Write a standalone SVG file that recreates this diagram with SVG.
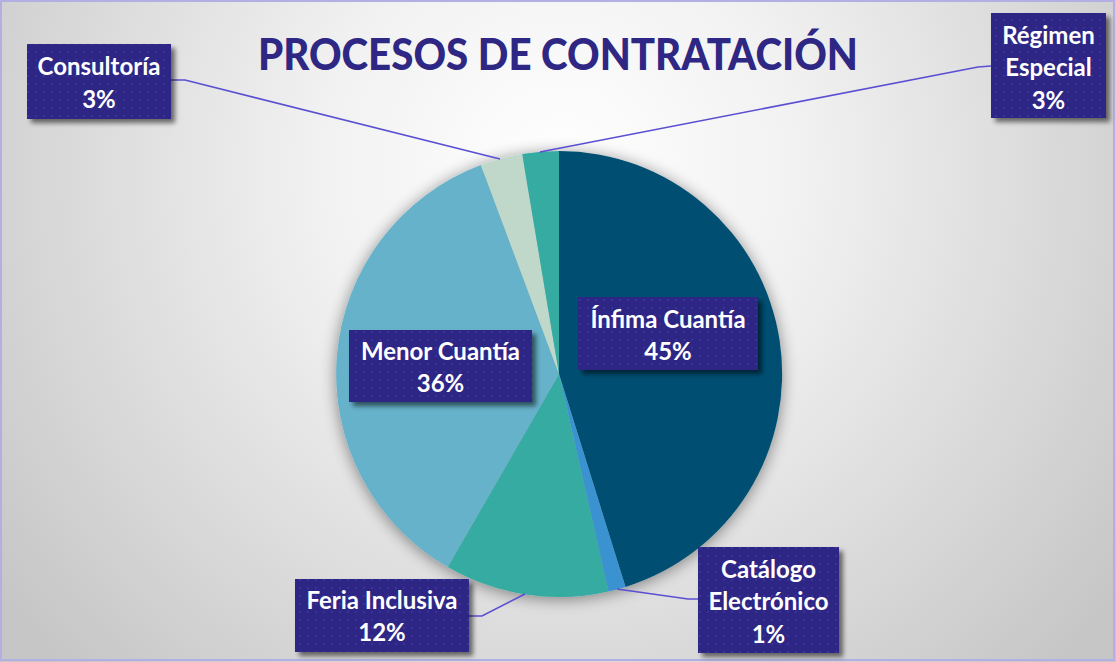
<svg xmlns="http://www.w3.org/2000/svg" width="1116" height="662" viewBox="0 0 1116 662">
<defs>
<radialGradient id="bg" cx="560" cy="170" r="700" gradientUnits="userSpaceOnUse">
<stop offset="0" stop-color="#ffffff"/>
<stop offset="0.35" stop-color="#f1f1f1"/>
<stop offset="1" stop-color="#c6c6c6"/>
</radialGradient>
<pattern id="dots" width="8" height="8" patternUnits="userSpaceOnUse">
<rect width="8" height="8" fill="#2e2784"/>
<circle cx="4" cy="4" r="1" fill="#3a33a0"/>
</pattern>
<filter id="pieShadow" x="-20%" y="-20%" width="140%" height="140%">
<feGaussianBlur in="SourceAlpha" stdDeviation="8"/>
<feOffset dx="0" dy="2"/>
<feComponentTransfer><feFuncA type="linear" slope="0.45"/></feComponentTransfer>
<feMerge><feMergeNode/><feMergeNode in="SourceGraphic"/></feMerge>
</filter>
<filter id="boxShadow" x="-20%" y="-20%" width="150%" height="150%">
<feGaussianBlur in="SourceAlpha" stdDeviation="2.5"/>
<feOffset dx="4" dy="4"/>
<feComponentTransfer><feFuncA type="linear" slope="0.55"/></feComponentTransfer>
<feMerge><feMergeNode/><feMergeNode in="SourceGraphic"/></feMerge>
</filter>
</defs>
<style>
.box{fill:url(#dots);filter:url(#boxShadow);}
.lbl{font-family:Lato,"Open Sans","Liberation Sans",sans-serif;font-weight:bold;font-size:24px;fill:#ffffff;text-anchor:middle;}
.title{font-family:Lato,"Open Sans","Liberation Sans",sans-serif;font-weight:900;font-size:44px;fill:#2e2784;text-anchor:middle;}
.lead{fill:none;stroke:#5a4fd2;stroke-width:1.6;}
</style>
<rect x="0" y="0" width="1116" height="662" fill="url(#bg)"/>
<rect x="1" y="1" width="1113" height="659" fill="none" stroke="#b3afe2" stroke-width="2"/>
<text class="title" x="558" y="70" textLength="600" lengthAdjust="spacingAndGlyphs">PROCESOS DE CONTRATACIÓN</text>

<g id="pie" filter="url(#pieShadow)">
<path id="slice-infima" d="M559,374 L559,151 A223,223 0 0 1 625.5,586.9 Z" fill="#005073"/>
<path id="slice-catalogo" d="M559,374 L625.5,586.9 A223,223 0 0 1 608.5,591.4 Z" fill="#3a92d0"/>
<path id="slice-feria" d="M559,374 L608.5,591.4 A223,223 0 0 1 447.8,567.1 Z" fill="#36aba1"/>
<path id="slice-menor" d="M559,374 L447.8,567.1 A223,223 0 0 1 480.9,165.1 Z" fill="#66b2ca"/>
<path id="slice-consultoria" d="M559,374 L480.9,165.1 A223,223 0 0 1 522.2,154.1 Z" fill="#bfd8ca"/>
<path id="slice-regimen" d="M559,374 L522.2,154.1 A223,223 0 0 1 559,151 Z" fill="#36aba1"/>
</g>

<g id="connectors">
<polyline class="lead" points="171,80 185,80 500,159"/>
<polyline class="lead" points="991,66 978,67 540,152"/>
<polyline class="lead" points="469,616 482,616 525,594"/>
<polyline class="lead" points="698,599 688,599 617,589"/>
</g>

<g id="label-consultoria">
<rect class="box" x="27" y="44" width="144" height="75"/>
<text class="lbl" x="99" y="75">Consultoría</text>
<text class="lbl" x="99" y="108">3%</text>
</g>
<g id="label-regimen">
<rect class="box" x="991" y="13" width="115" height="105"/>
<text class="lbl" x="1048.5" y="44">Régimen</text>
<text class="lbl" x="1048.5" y="76">Especial</text>
<text class="lbl" x="1048.5" y="109">3%</text>
</g>
<g id="label-menor">
<rect class="box" x="349" y="330" width="183" height="72"/>
<text class="lbl" x="440.5" y="360">Menor Cuantía</text>
<text class="lbl" x="440.5" y="392">36%</text>
</g>
<g id="label-infima">
<rect class="box" x="578" y="297" width="180" height="73"/>
<text class="lbl" x="668" y="328">Ínfima Cuantía</text>
<text class="lbl" x="668" y="360">45%</text>
</g>
<g id="label-feria">
<rect class="box" x="295" y="579" width="174" height="73"/>
<text class="lbl" x="382" y="609">Feria Inclusiva</text>
<text class="lbl" x="382" y="641">12%</text>
</g>
<g id="label-catalogo">
<rect class="box" x="698" y="547" width="141" height="106"/>
<text class="lbl" x="768.5" y="578">Catálogo</text>
<text class="lbl" x="768.5" y="610">Electrónico</text>
<text class="lbl" x="768.5" y="643">1%</text>
</g>
</svg>
